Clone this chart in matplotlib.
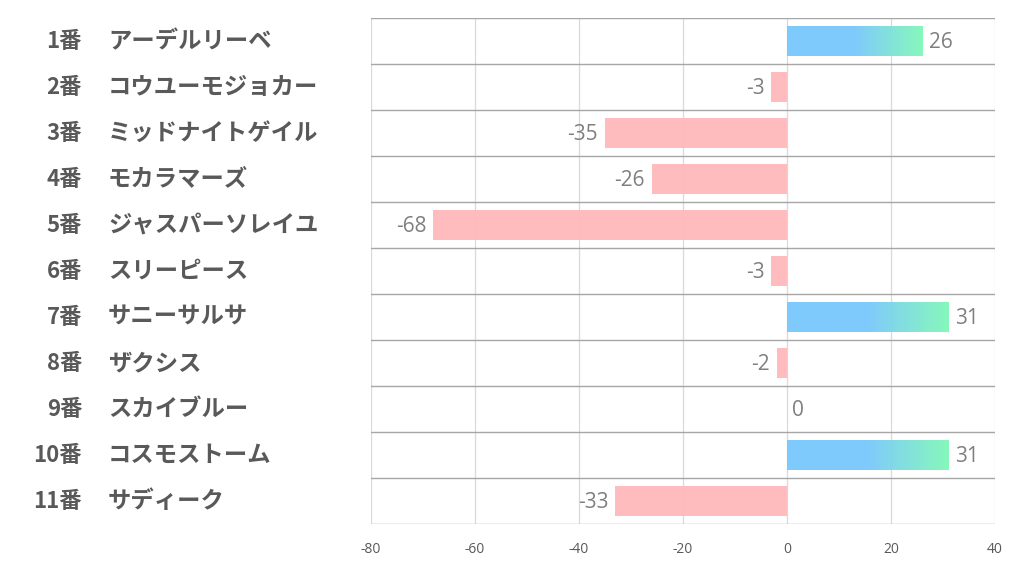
import numpy as np
import matplotlib.pyplot as plt
from matplotlib.colors import LinearSegmentedColormap
from matplotlib.patches import Rectangle

plt.rcParams['font.family'] = ['Noto Sans CJK JP', 'DejaVu Sans']

numbers = ["1番", "2番", "3番", "4番", "5番", "6番", "7番", "8番", "9番", "10番", "11番"]
names = ["アーデルリーベ", "コウユーモジョカー", "ミッドナイトゲイル", "モカラマーズ",
         "ジャスパーソレイユ", "スリーピース", "サニーサルサ", "ザクシス",
         "スカイブルー", "コスモストーム", "サディーク"]
values = [26, -3, -35, -26, -68, -3, 31, -2, 0, 31, -33]
xticks = [-80, -60, -40, -20, 0, 20, 40]

POS_CMAP = LinearSegmentedColormap.from_list(
    "pos", [(0, "#78c8fc"), (0.5, "#78c8fc"), (1, "#80f8b8")])
NEG_COLOR = "#ffb9bb"
TEXT = "#595959"
NUM_FONT = ["Open Sans", "DejaVu Sans"]

fig = plt.figure(figsize=(10.22, 5.74), dpi=100)
ax = fig.add_axes([371 / 1022, 1 - 524 / 574, (995 - 371) / 1022, (524 - 18) / 574])

n = len(values)
bar_h = 0.67
grad = np.linspace(0, 1, 256).reshape(1, -1)
for i, v in enumerate(values):
    if v > 0:
        rect = Rectangle((0, i - bar_h / 2), v, bar_h, facecolor="none", edgecolor="none")
        ax.add_patch(rect)
        im = ax.imshow(grad, cmap=POS_CMAP, aspect="auto", alpha=0.95,
                       extent=(0, v, i + bar_h / 2, i - bar_h / 2), zorder=2)
        im.set_clip_path(rect)
        ax.text(v + 1.3, i + 0.03, str(v), va="center", ha="left", fontsize=15,
                color="#7f7f7f", family=NUM_FONT)
    elif v < 0:
        ax.barh(i, v, height=bar_h, color=NEG_COLOR, alpha=0.95, zorder=2)
        ax.text(v - 1.3, i + 0.03, str(v), va="center", ha="right", fontsize=15,
                color="#7f7f7f", family=NUM_FONT)
    else:
        ax.text(1.0, i + 0.03, str(v), va="center", ha="left", fontsize=15,
                color="#7f7f7f", family=NUM_FONT)

ax.set_xlim(-80, 40)
ax.set_ylim(n - 0.5, -0.5)

# grid lines
for x in xticks:
    ax.axvline(x, color="#d9d9d9", lw=0.9, zorder=1)
for k in range(n + 1):
    ax.axhline(k - 0.5, color="#a6a6a6", lw=1.0, zorder=3)

for s in ax.spines.values():
    s.set_visible(False)

ax.set_xticks(xticks)
ax.set_xticklabels([str(t) for t in xticks], fontsize=10, color=TEXT, family=NUM_FONT)
ax.tick_params(axis="x", length=0, pad=13)
ax.set_yticks([])

# left labels
for i in range(n):
    y_fig = 1 - (18 + (i + 0.5) * 46) / 574
    fig.text(82 / 1022, y_fig, numbers[i], ha="right", va="center", fontsize=16,
             fontweight="bold", color=TEXT)
    fig.text(108 / 1022, y_fig, names[i], ha="left", va="center", fontsize=16.8,
             fontweight="bold", color=TEXT)

fig.savefig("out.png", dpi=100)
